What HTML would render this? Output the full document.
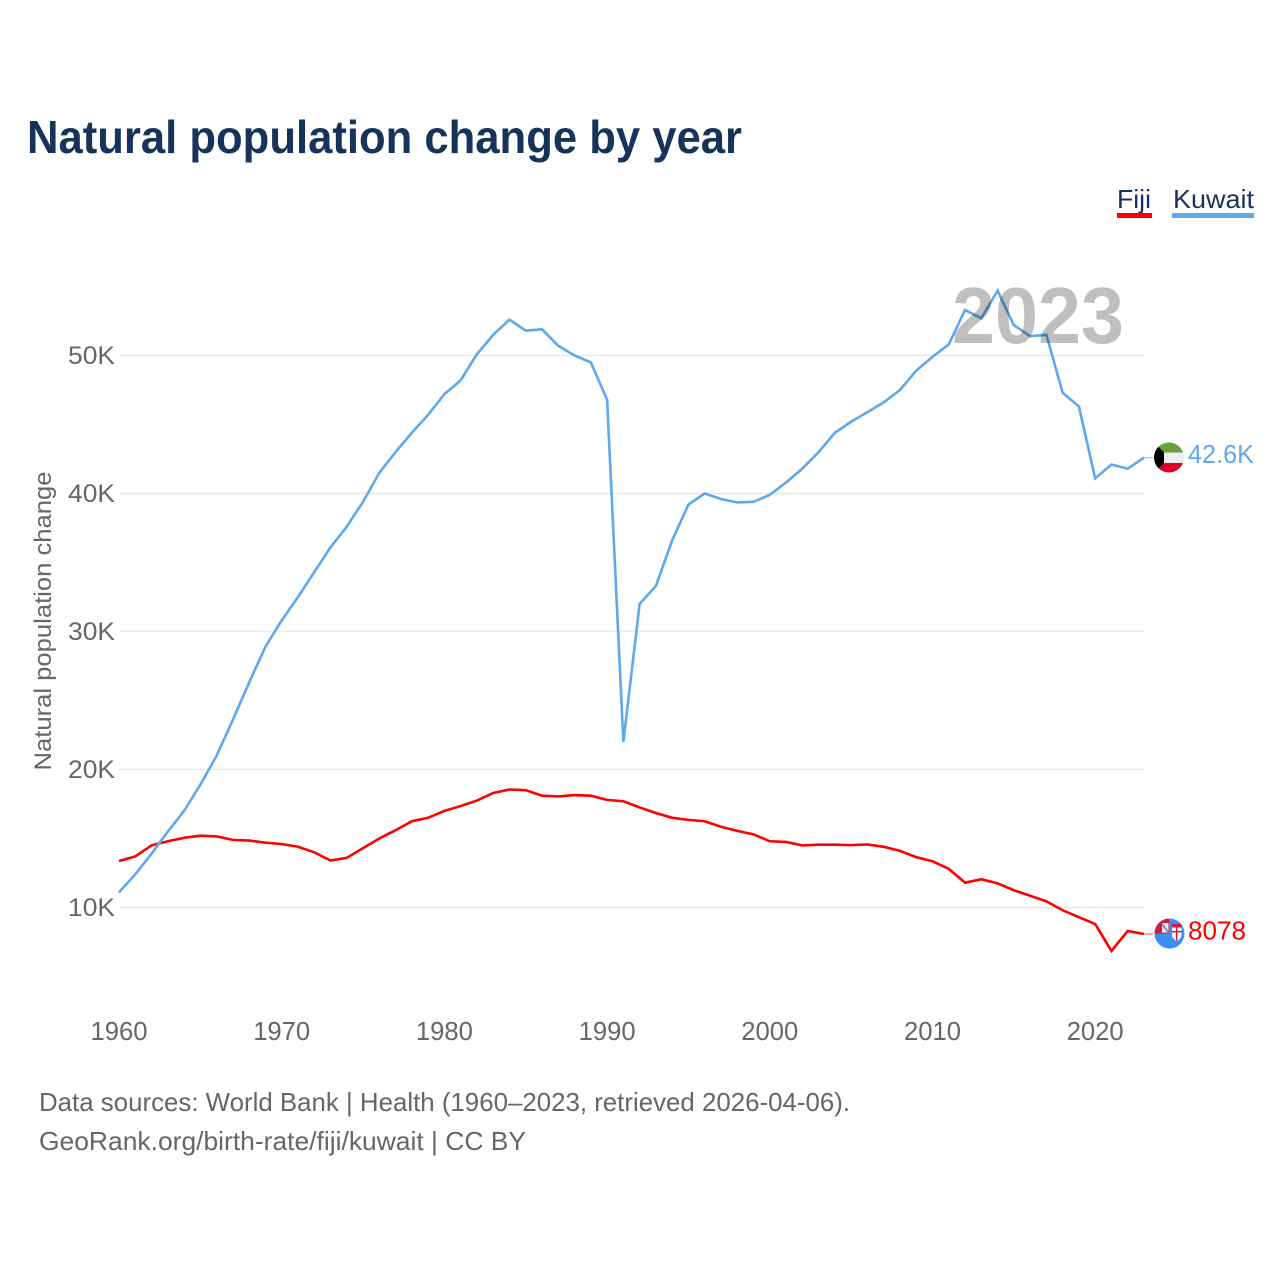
<!DOCTYPE html>
<html lang="en">
<head>
<meta charset="utf-8">
<title>Natural population change by year</title>
<style>
html,body{margin:0;padding:0;background:#fff;}
svg{display:block;font-family:"Liberation Sans",sans-serif;}
</style>
</head>
<body>
<svg id="chart" width="1280" height="1280" viewBox="0 0 1280 1280" xmlns="http://www.w3.org/2000/svg">
<defs>
<clipPath id="flag-clip-kuwait"><circle cx="1169" cy="457.5" r="15"/></clipPath>
<clipPath id="flag-clip-fiji"><circle cx="1169.500" cy="933.500" r="15"/></clipPath>
</defs>
<rect width="1280" height="1280" fill="#fff"/>
<text x="27" y="153" font-size="46" font-weight="bold" fill="#17335a" textLength="715" lengthAdjust="spacingAndGlyphs">Natural population change by year</text>
<text x="1117" y="208" font-size="26" fill="#17335a" textLength="34" lengthAdjust="spacingAndGlyphs">Fiji</text>
<rect x="1117" y="213" width="35" height="5" fill="#ff0000"/>
<text x="1173" y="208" font-size="26" fill="#17335a" textLength="81" lengthAdjust="spacingAndGlyphs">Kuwait</text>
<rect x="1172" y="213" width="82" height="5" fill="#5fa8ec"/>
<g id="grid"></g>
<g id="yticks"></g>
<g id="xticks"></g>
<text transform="translate(51 621) rotate(-90)" text-anchor="middle" font-size="24" fill="#666" textLength="299" lengthAdjust="spacingAndGlyphs">Natural population change</text>
<g id="series"></g>
<text x="952" y="343" font-size="80" font-weight="bold" fill="#000" fill-opacity="0.25" textLength="172" lengthAdjust="spacingAndGlyphs">2023</text>
<g clip-path="url(#flag-clip-kuwait)">
<rect x="1154" y="442" width="30" height="10.5" fill="#6a9e3f"/>
<rect x="1154" y="452.5" width="30" height="10.5" fill="#eeeeee"/>
<rect x="1154" y="463" width="30" height="11" fill="#d80027"/>
<polygon points="1154,442 1164,452.5 1164,463 1154,473" fill="#000"/>
</g>
<g clip-path="url(#flag-clip-fiji)">
<rect x="1154" y="918" width="31" height="31" fill="#3a90f2"/>
<rect x="1154" y="918" width="15" height="15.500" fill="#d01c3c"/>
<rect x="1162" y="923" width="6.500" height="9.500" fill="#e8ecf4"/>
<line x1="1162" y1="924" x2="1168" y2="932" stroke="#6a7fc0" stroke-width="1.600"/>
<path d="M1172 924h9.500v11q0 4-4.750 6q-4.750-2-4.750-6z" fill="#f4f4f4"/>
<rect x="1172" y="924" width="9.500" height="3.500" fill="#d01c3c"/>
<rect x="1172" y="931" width="9.500" height="1.400" fill="#d01c3c"/>
<rect x="1176" y="927.500" width="1.400" height="13" fill="#d01c3c"/>
</g>
<g id="end-labels"></g>
<text x="39" y="1111" font-size="26" fill="#666" textLength="811" lengthAdjust="spacingAndGlyphs">Data sources: World Bank | Health (1960–2023, retrieved 2026-04-06).</text>
<text x="39" y="1150" font-size="26" fill="#666" textLength="487" lengthAdjust="spacingAndGlyphs">GeoRank.org/birth-rate/fiji/kuwait | CC BY</text>
</svg>
<script>
const yTicks = [10000, 20000, 30000, 40000, 50000];
const yTickLabels = ["10K", "20K", "30K", "40K", "50K"];
const xTicks = [1960, 1970, 1980, 1990, 2000, 2010, 2020];
const startYear = 1960;
const fijiValues = [13370,13700,14500,14800,15050,15200,15150,14900,14850,14700,14600,14400,14000,13400,13600,14300,15000,15600,16250,16500,17000,17350,17750,18300,18550,18500,18100,18050,18150,18100,17800,17700,17250,16850,16500,16350,16250,15850,15550,15300,14800,14750,14500,14550,14550,14520,14570,14400,14100,13650,13350,12800,11800,12050,11750,11250,10850,10450,9800,9300,8800,6850,8300,8078];
const kuwaitValues = [11100,12400,13900,15500,17000,18900,21000,23600,26300,28900,30800,32500,34300,36100,37600,39400,41500,43000,44400,45700,47200,48200,50100,51500,52600,51800,51900,50700,50000,49500,46800,22000,32000,33300,36600,39200,40000,39600,39350,39400,39900,40800,41800,43000,44400,45200,45900,46600,47500,48900,49900,50800,53300,52700,54700,52200,51400,51500,47300,46300,41100,42100,41800,42600];
const fijiEndLabel = "8078";
const kuwaitEndLabel = "42.6K";

const NS = "http://www.w3.org/2000/svg";
function xScale(year) { return 119 + (year - 1960) * (1144 - 119) / 63; }
function yScale(value) { return 907.5 - (value - 10000) * (552 / 40000); }
function makeText(parent, content, x, y, anchor, fill, size, length) {
  const t = document.createElementNS(NS, "text");
  t.setAttribute("x", x);
  t.setAttribute("y", y);
  t.setAttribute("text-anchor", anchor);
  t.setAttribute("fill", fill);
  t.setAttribute("font-size", size);
  t.setAttribute("textLength", length);
  t.setAttribute("lengthAdjust", "spacingAndGlyphs");
  t.textContent = content;
  parent.appendChild(t);
  return t;
}

const grid = document.getElementById("grid");
const yGroup = document.getElementById("yticks");
yTicks.forEach(function (v, i) {
  const line = document.createElementNS(NS, "line");
  
  
  line.setAttribute("x1", 119);
  line.setAttribute("x2", 1144);
  line.setAttribute("y1", yScale(v));
  line.setAttribute("y2", yScale(v));
  line.setAttribute("stroke", "#e9e9e9");
  line.setAttribute("stroke-width", 1.5);
  grid.appendChild(line);
  const label = makeText(yGroup, yTickLabels[i], 115, yScale(v) + 8.5, "end", "#666", 25, 47);
  
  
});

const xGroup = document.getElementById("xticks");
xTicks.forEach(function (year) {
  const label = makeText(xGroup, String(year), xScale(year), 1040, "middle", "#666", 26, 57);
  
  
});

function linePath(values) {
  return values.map(function (v, i) {
    return (i ? "L" : "M") + xScale(startYear + i).toFixed(2) + " " + yScale(v).toFixed(2);
  }).join("");
}

const seriesGroup = document.getElementById("series");
const labelGroup = document.getElementById("end-labels");

const fijiLine = document.createElementNS(NS, "path");


fijiLine.setAttribute("d", linePath(fijiValues));
fijiLine.setAttribute("fill", "none");
fijiLine.setAttribute("stroke", "#ff0000");
fijiLine.setAttribute("stroke-width", 2.6);
seriesGroup.appendChild(fijiLine);

const kuwaitLine = document.createElementNS(NS, "path");


kuwaitLine.setAttribute("d", linePath(kuwaitValues));
kuwaitLine.setAttribute("fill", "none");
kuwaitLine.setAttribute("stroke", "#5fa8ec");
kuwaitLine.setAttribute("stroke-width", 2.6);
seriesGroup.appendChild(kuwaitLine);

const fijiLeader = document.createElementNS(NS, "line");


fijiLeader.setAttribute("x1", 1144);
fijiLeader.setAttribute("x2", 1153);
fijiLeader.setAttribute("y1", yScale(fijiValues[fijiValues.length - 1]));
fijiLeader.setAttribute("y2", yScale(fijiValues[fijiValues.length - 1]));
fijiLeader.setAttribute("stroke", "#ff6a6a");
fijiLeader.setAttribute("stroke-width", 1.2);
seriesGroup.appendChild(fijiLeader);

const kuwaitLeader = document.createElementNS(NS, "line");


kuwaitLeader.setAttribute("x1", 1144);
kuwaitLeader.setAttribute("x2", 1153);
kuwaitLeader.setAttribute("y1", yScale(kuwaitValues[kuwaitValues.length - 1]));
kuwaitLeader.setAttribute("y2", yScale(kuwaitValues[kuwaitValues.length - 1]));
kuwaitLeader.setAttribute("stroke", "#9cc8f2");
kuwaitLeader.setAttribute("stroke-width", 1.2);
seriesGroup.appendChild(kuwaitLeader);

const kuwaitLabel = makeText(labelGroup, kuwaitEndLabel, 1188, 463, "start", "#5fa8ec", 26, 66);



const fijiLabel = makeText(labelGroup, fijiEndLabel, 1188, 939.5, "start", "#ff0000", 26, 58);


</script>
</body>
</html>
